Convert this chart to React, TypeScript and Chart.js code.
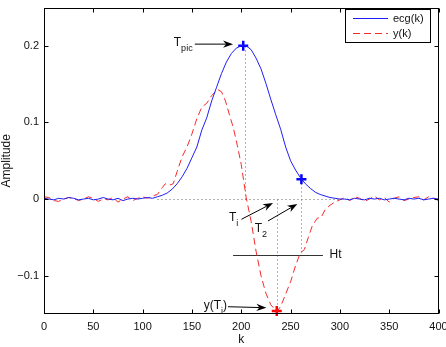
import { useEffect, useRef } from "react";
import { Chart, registerables } from "chart.js";

Chart.register(...registerables);

// Sample index k and ECG amplitude (T wave)
const ecgK = [
  0, 5, 10, 15, 20, 25, 30, 35, 40, 45, 50, 55, 60, 65, 70, 75, 80, 85, 90, 95, 100, 105, 110,
  115, 120, 125, 130, 135, 140, 145, 150, 155, 160, 165, 170, 175, 180, 185, 190, 195, 200, 202,
  205, 210, 215, 220, 225, 230, 235, 240, 245, 250, 255, 260, 265, 270, 275, 280, 285, 290, 295,
  300, 305, 310, 315, 320, 325, 330, 335, 340, 345, 350, 355, 360, 365, 370, 375, 380, 385, 390,
  395, 400,
];
const ecgVals = [
  0.001, 0.0, -0.001, 0.001, 0.0, 0.002, 0.001, -0.001, 0.0, 0.001, -0.001, 0.0, 0.002, 0.0,
  -0.001, 0.001, -0.002, 0.0, 0.001, 0.0, 0.001, 0.002, 0.001,
  0.003, 0.005, 0.008, 0.013, 0.02, 0.029, 0.04, 0.054, 0.068, 0.09, 0.106, 0.128, 0.146, 0.164,
  0.179, 0.19, 0.197, 0.2, 0.201, 0.2, 0.195, 0.184, 0.17, 0.151, 0.13, 0.11, 0.091, 0.068, 0.05,
  0.038, 0.028, 0.02, 0.014, 0.009, 0.006, 0.004, 0.002, 0.001, 0.0,
  0.0, -0.001, 0.001, 0.0, -0.001, 0.001, 0.0, 0.001, -0.001, 0.0, 0.001, 0.0, -0.001, 0.001, 0.0,
  0.001, -0.001, 0.0, 0.001, 0.0,
];

// Filtered signal y(k)
const yK = [
  0, 5, 10, 15, 20, 25, 30, 35, 40, 45, 50, 55, 60, 65, 70, 75, 80, 85, 90, 95, 100, 105, 110,
  115, 120, 123, 127, 131, 135, 140, 145, 150, 155, 160, 165, 170, 176, 180, 184, 188, 192, 196,
  200, 205, 210, 215, 220, 225, 230, 236, 240, 245, 250, 255, 260, 264, 268, 272, 277, 281, 285,
  290, 295, 300, 305, 310, 315, 320, 325, 330, 335, 340, 345, 350, 355, 360, 365, 370, 375, 380,
  385, 390, 395, 400,
];
const yVals = [
  0.003, 0.002, -0.002, -0.003, 0.0, 0.002, 0.001, -0.002, 0.0, 0.003, 0.001, -0.003, 0.0,
  -0.001, 0.002, -0.004, 0.0, 0.003, -0.002, 0.001, 0.003, 0.001, 0.004,
  0.006, 0.015, 0.02, 0.018, 0.02, 0.036, 0.055, 0.068, 0.085, 0.105, 0.12, 0.125, 0.135, 0.143,
  0.14, 0.128, 0.11, 0.093, 0.07, 0.045, 0.002, -0.029, -0.068, -0.1, -0.123, -0.138, -0.147,
  -0.14, -0.124, -0.108, -0.087, -0.07, -0.066, -0.05, -0.035, -0.025, -0.024, -0.014, -0.008,
  -0.004, -0.001,
  0.002, -0.002, 0.003, 0.001, -0.003, 0.0, 0.004, -0.001, 0.002, -0.004, 0.001, 0.003, -0.002,
  0.0, 0.002, 0.003, -0.001, 0.003, 0.001, -0.002,
];

const xTicks = [0, 50, 100, 150, 200, 250, 300, 350, 400];
const yTicks = [-0.1, 0, 0.1, 0.2];

// Characteristic points
const tPic = { x: 202, y: 0.2 };
const t2Point = { x: 261, y: 0.026 };
const yTiPoint = { x: 236, y: -0.146 };

// Threshold Ht
const htLevel = -0.0735;
const htStart = 191.7;
const htEnd = 282.8;

// Dotted guide lines [k1, v1, k2, v2]
const guides: number[][] = [
  [115, 0, 300, 0],
  [203.5, 0.2, 203.5, 0],
  [236, 0, 236, -0.146],
  [261, 0.026, 261, -0.07],
];

// Arrows [kFrom, vFrom, kTo, vTo]
const arrows: number[][] = [
  [152.9, 0.2022, 191.7, 0.2022],
  [200.2, -0.0264, 232.2, -0.0051],
  [227.1, -0.0286, 256.9, -0.0064],
  [186.6, -0.1405, 225.5, -0.1418],
];

// Text labels: main text, subscript, trailing text, anchor (k, v)
const labels = [
  { main: "T", sub: "pic", tail: "", k: 131.6, v: 0.2 },
  { main: "T", sub: "i", tail: "", k: 187.6, v: -0.0286 },
  { main: "T", sub: "2", tail: "", k: 213.7, v: -0.0436 },
  { main: "y(T", sub: "i", tail: ")", k: 162, v: -0.144 },
  { main: "Ht", sub: "", tail: "", k: 289.6, v: -0.0773 },
];

const FONT = "'Liberation Sans', Arial, Helvetica, sans-serif";
const BLUE = "#1f1ff5";
const RED = "#f52a2a";

const decorPlugin = {
  id: "decor",
  beforeDatasetsDraw(chart: any) {
    const { ctx, scales } = chart;
    const xs = scales.x;
    const ys = scales.y;
    ctx.save();
    ctx.strokeStyle = "#666";
    ctx.lineWidth = 1;
    ctx.setLineDash([1, 3]);
    for (const g of guides) {
      ctx.beginPath();
      ctx.moveTo(Math.round(xs.getPixelForValue(g[0])) + 0.5, Math.round(ys.getPixelForValue(g[1])) + 0.5);
      ctx.lineTo(Math.round(xs.getPixelForValue(g[2])) + 0.5, Math.round(ys.getPixelForValue(g[3])) + 0.5);
      ctx.stroke();
    }
    ctx.setLineDash([]);
    // Ht threshold line
    ctx.strokeStyle = "#333";
    const hy = Math.round(ys.getPixelForValue(htLevel)) + 0.5;
    ctx.beginPath();
    ctx.moveTo(xs.getPixelForValue(htStart), hy);
    ctx.lineTo(xs.getPixelForValue(htEnd), hy);
    ctx.stroke();
    ctx.restore();
  },
  afterDatasetsDraw(chart: any) {
    const { ctx, scales, chartArea } = chart;
    const xs = scales.x;
    const ys = scales.y;
    const { left, right, top, bottom } = chartArea;
    ctx.save();

    // Box and inward ticks
    ctx.strokeStyle = "#000";
    ctx.lineWidth = 1;
    const L = Math.round(left) + 0.5;
    const R = Math.round(right) - 0.5;
    const T = Math.round(top) + 0.5;
    const B = Math.round(bottom) - 0.5;
    ctx.strokeRect(L, T, R - L, B - T);
    ctx.beginPath();
    for (const t of xTicks) {
      const px = Math.round(xs.getPixelForValue(t)) + 0.5;
      ctx.moveTo(px, B);
      ctx.lineTo(px, B - 4);
      ctx.moveTo(px, T);
      ctx.lineTo(px, T + 4);
    }
    for (const t of yTicks) {
      const py = Math.round(ys.getPixelForValue(t)) + 0.5;
      ctx.moveTo(L, py);
      ctx.lineTo(L + 4, py);
      ctx.moveTo(R, py);
      ctx.lineTo(R - 4, py);
    }
    ctx.stroke();

    // Arrows
    ctx.fillStyle = "#000";
    ctx.strokeStyle = "#000";
    for (const a of arrows) {
      const x1 = xs.getPixelForValue(a[0]);
      const y1 = ys.getPixelForValue(a[1]);
      const x2 = xs.getPixelForValue(a[2]);
      const y2 = ys.getPixelForValue(a[3]);
      const ang = Math.atan2(y2 - y1, x2 - x1);
      const len = 10;
      const hw = 3.6;
      const notch = 7;
      const ca = Math.cos(ang);
      const sa = Math.sin(ang);
      ctx.beginPath();
      ctx.moveTo(x1, y1);
      ctx.lineTo(x2 - ca * notch, y2 - sa * notch);
      ctx.stroke();
      ctx.beginPath();
      ctx.moveTo(x2, y2);
      ctx.lineTo(x2 - ca * len - sa * hw, y2 - sa * len + ca * hw);
      ctx.lineTo(x2 - ca * notch, y2 - sa * notch);
      ctx.lineTo(x2 - ca * len + sa * hw, y2 - sa * len - ca * hw);
      ctx.closePath();
      ctx.fill();
    }

    // Text labels
    ctx.fillStyle = "#111";
    ctx.textBaseline = "alphabetic";
    ctx.textAlign = "left";
    for (const lb of labels) {
      let x = xs.getPixelForValue(lb.k);
      const y = ys.getPixelForValue(lb.v);
      ctx.font = `12px ${FONT}`;
      ctx.fillText(lb.main, x, y);
      x += ctx.measureText(lb.main).width;
      if (lb.sub) {
        ctx.font = `9px ${FONT}`;
        ctx.fillText(lb.sub, x, y + 5);
        x += ctx.measureText(lb.sub).width;
      }
      if (lb.tail) {
        ctx.font = `12px ${FONT}`;
        ctx.fillText(lb.tail, x, y);
      }
    }

    // Axis titles
    ctx.font = `12px ${FONT}`;
    ctx.fillStyle = "#111";
    ctx.textAlign = "center";
    ctx.textBaseline = "middle";
    ctx.fillText("k", (left + right) / 2, 340);
    ctx.save();
    ctx.translate(7, (top + bottom) / 2);
    ctx.rotate(-Math.PI / 2);
    ctx.fillText("Amplitude", 0, 0);
    ctx.restore();

    // Legend
    const lx = 345.5;
    const ly = 9.5;
    const lw = 85;
    const lh = 33;
    ctx.fillStyle = "#fff";
    ctx.fillRect(lx, ly, lw, lh);
    ctx.strokeStyle = "#000";
    ctx.lineWidth = 1;
    ctx.strokeRect(lx, ly, lw, lh);
    const items = [
      { text: "ecg(k)", color: BLUE, dash: [] as number[] },
      { text: "y(k)", color: RED, dash: [7, 4] },
    ];
    items.forEach((it, i) => {
      const yy = 18.5 + i * 15;
      ctx.strokeStyle = it.color;
      ctx.setLineDash(it.dash);
      ctx.beginPath();
      ctx.moveTo(353, yy);
      ctx.lineTo(388, yy);
      ctx.stroke();
      ctx.setLineDash([]);
      ctx.fillStyle = "#111";
      ctx.textAlign = "left";
      ctx.textBaseline = "middle";
      ctx.font = `11px ${FONT}`;
      ctx.fillText(it.text, 393, yy);
    });

    ctx.restore();
  },
};

export default function App() {
  const ref = useRef<HTMLCanvasElement | null>(null);

  useEffect(() => {
    document.body.style.margin = "0";
    const canvas = ref.current;
    if (!canvas) return;
    const chart = new Chart(canvas, {
      type: "line",
      data: {
        datasets: [
          {
            label: "ecg(k)",
            data: ecgK.map((k, i) => ({ x: k, y: ecgVals[i] })),
            borderColor: BLUE,
            borderWidth: 1,
            pointRadius: 0,
            tension: 0,
          },
          {
            label: "y(k)",
            data: yK.map((k, i) => ({ x: k, y: yVals[i] })),
            borderColor: RED,
            borderWidth: 1,
            borderDash: [7, 4],
            pointRadius: 0,
            tension: 0,
          },
          {
            label: "blue points",
            data: [tPic, t2Point],
            showLine: false,
            pointStyle: "cross",
            pointRadius: 5,
            borderWidth: 2.5,
            borderColor: "#0000ff",
            clip: false,
          },
          {
            label: "red point",
            data: [yTiPoint],
            showLine: false,
            pointStyle: "cross",
            pointRadius: 5,
            borderWidth: 2.5,
            borderColor: "#ff0000",
            clip: false,
          },
        ],
      },
      options: {
        responsive: false,
        animation: false,
        layout: { padding: { top: 3, right: 7, left: 0, bottom: 0 } },
        plugins: { legend: { display: false }, tooltip: { enabled: false } },
        scales: {
          x: {
            type: "linear",
            min: 0,
            max: 400,
            afterBuildTicks: (s: any) => {
              s.ticks = xTicks.map((v) => ({ value: v }));
            },
            afterFit: (s: any) => {
              s.height = 33;
              s.paddingLeft = 0;
              s.paddingRight = 0;
            },
            grid: { display: false, drawTicks: false },
            border: { display: false },
            ticks: {
              padding: 6,
              color: "#111",
              font: { family: FONT, size: 11 },
              maxRotation: 0,
              autoSkip: false,
            },
          },
          y: {
            type: "linear",
            min: -0.15,
            max: 0.25,
            afterBuildTicks: (s: any) => {
              s.ticks = yTicks.map((v) => ({ value: v }));
            },
            afterFit: (s: any) => {
              s.width = 44;
              s.paddingTop = 0;
              s.paddingBottom = 0;
            },
            grid: { display: false, drawTicks: false },
            border: { display: false },
            ticks: {
              padding: 5,
              color: "#111",
              font: { family: FONT, size: 11 },
              autoSkip: false,
              callback: (v: any) => {
                const n = Number(v);
                if (Math.abs(n) < 1e-9) return "0";
                const s = Math.abs(n).toFixed(1);
                return n < 0 ? "\u2212" + s : s;
              },
            },
          },
        },
      },
      plugins: [decorPlugin],
    });
    return () => chart.destroy();
  }, []);

  return <canvas ref={ref} width={446} height={347} style={{ display: "block" }} />;
}
